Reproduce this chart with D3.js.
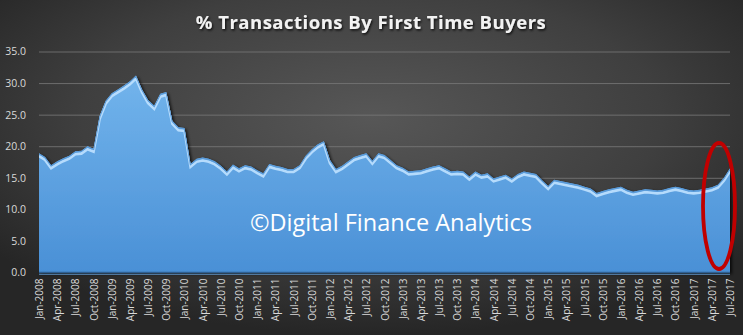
<!DOCTYPE html>
<html><head><meta charset="utf-8">
<script src="https://cdn.jsdelivr.net/npm/d3@7/dist/d3.min.js"></script>
<style>html,body{margin:0;padding:0;background:#333;}svg{display:block;}</style>
</head><body>
<svg id="chart" width="743" height="335"></svg>
<script>
const title = "% Transactions By First Time Buyers";
const watermark = "©Digital Finance Analytics";
const monthNames = ["Jan","Feb","Mar","Apr","May","Jun","Jul","Aug","Sep","Oct","Nov","Dec"];
const years = [2008,2009,2010,2011,2012,2013,2014,2015,2016,2017];
const lastMonthIndex2017 = 6; // Jul-2017
const categories = [];
years.forEach(y => monthNames.forEach((m,i) => { if (y < 2017 || i <= lastMonthIndex2017) categories.push(m + "-" + y); }));

const values = [
 18.9,18.3,17.0,17.6,18.1,18.5,19.2,19.3,20.0,19.6,24.8,27.2,
 28.4,29.0,29.6,30.3,31.2,29.0,27.3,26.4,28.3,28.6,24.0,23.0,
 22.9,17.2,18.0,18.2,18.0,17.6,16.9,16.0,17.1,16.5,17.0,16.8,
 16.2,15.7,17.2,16.9,16.7,16.4,16.4,17.0,18.5,19.5,20.3,20.8,
 17.8,16.4,16.9,17.6,18.3,18.6,18.9,17.7,18.9,18.6,17.8,17.0,
 16.6,16.0,16.1,16.2,16.5,16.8,17.0,16.5,16.0,16.1,16.0,15.2,
 16.0,15.5,15.7,14.9,15.2,15.5,14.9,15.6,16.0,15.8,15.6,14.6,
 13.7,14.7,14.5,14.3,14.1,13.9,13.6,13.3,12.6,12.9,13.2,13.4,
 13.6,13.1,12.8,13.0,13.2,13.1,13.0,13.1,13.4,13.6,13.4,13.1,
 13.0,13.1,13.3,13.5,13.9,15.0,16.5
];
const yTicks = [0,5,10,15,20,25,30,35];
const xTickLabels = categories.filter((c,i) => i % 3 === 0);

const W = 743, H = 335;
const svg = d3.select("#chart");
const defs = svg.append("defs");

const bg = defs.append("radialGradient").attr("id","bg").attr("cx","50%").attr("cy","35%").attr("r","65%");
bg.append("stop").attr("offset","0%").attr("stop-color","#575757");
bg.append("stop").attr("offset","60%").attr("stop-color","#3f3f3f");
bg.append("stop").attr("offset","100%").attr("stop-color","#262626");
svg.append("rect").attr("width",W).attr("height",H).attr("fill","url(#bg)");

const af = defs.append("linearGradient").attr("id","areaFill").attr("x1","0").attr("y1","0").attr("x2","0").attr("y2","1");
af.append("stop").attr("offset","0%").attr("stop-color","#72b4ec");
af.append("stop").attr("offset","100%").attr("stop-color","#4a90d6");

const sh = defs.append("filter").attr("id","shadow").attr("x","-5%").attr("y","-5%").attr("width","110%").attr("height","110%");
sh.append("feDropShadow").attr("dx",2).attr("dy",1.5).attr("stdDeviation",1.5).attr("flood-color","#000").attr("flood-opacity",0.75);
const bl = defs.append("filter").attr("id","blur");
bl.append("feGaussianBlur").attr("stdDeviation",0.7);
const ts = defs.append("filter").attr("id","tshadow");
ts.append("feDropShadow").attr("dx",1).attr("dy",1.5).attr("stdDeviation",1).attr("flood-color","#000").attr("flood-opacity",0.8);

const x = d3.scalePoint().domain(categories).range([39,730]);
const y = d3.scaleLinear().domain([0,35]).range([272.5,51.5]);

// gridlines
svg.append("g").attr("transform","translate(39,0)")
  .call(d3.axisLeft(y).tickValues(yTicks.filter(t=>t>0)).tickSize(-(730-39)).tickFormat(""))
  .call(g => g.select(".domain").remove())
  .call(g => g.selectAll("line").attr("stroke","#7a7a7a").attr("stroke-width",0.8));

// y labels
svg.append("g").attr("transform","translate(29,0)")
  .call(d3.axisLeft(y).tickValues(yTicks).tickSize(0).tickFormat(d3.format(".1f")))
  .call(g => g.select(".domain").remove())
  .call(g => g.selectAll("text").attr("fill","#d9d9d9").attr("font-family","'Open Sans', sans-serif").attr("font-size","10.5px"));

const area = d3.area().x((d,i)=>x(categories[i])).y0(y(0)).y1(d=>y(d));
const line = d3.line().x((d,i)=>x(categories[i])).y(d=>y(d));

defs.append("clipPath").attr("id","areaClip").append("path").attr("d", area(values));

svg.append("path").attr("d", area(values)).attr("fill","url(#areaFill)").attr("filter","url(#shadow)");
// bevel highlight
svg.append("g").attr("clip-path","url(#areaClip)")
  .append("path").attr("d", line(values)).attr("transform","translate(0,3)")
  .attr("fill","none").attr("stroke","#bfe2ff").attr("stroke-width",2.6).attr("filter","url(#blur)").attr("opacity",0.9);
svg.append("g").attr("clip-path","url(#areaClip)")
  .append("path").attr("d", line(values)).attr("transform","translate(0,0.5)")
  .attr("fill","none").attr("stroke","#5a9ad8").attr("stroke-width",1.5);
// bottom baseline
svg.append("line").attr("x1",39).attr("x2",730).attr("y1",y(0)).attr("y2",y(0)).attr("stroke","#2e5f92").attr("stroke-width",1.5);
svg.append("line").attr("x1",39).attr("x2",730).attr("y1",y(0)+1.8).attr("y2",y(0)+1.8).attr("stroke","#5d8fc0").attr("stroke-width",1);

// x labels
svg.append("g").attr("transform",`translate(0,${y(0)+6})`)
  .call(d3.axisBottom(x).tickValues(xTickLabels).tickSize(0))
  .call(g => g.select(".domain").remove())
  .call(g => g.selectAll("text").attr("fill","#d9d9d9").attr("font-family","'Open Sans', sans-serif").attr("font-size","10px")
     .attr("transform","rotate(-90)").attr("text-anchor","end").attr("dx","0").attr("dy","0.35em").attr("x",0).attr("y",0));

// watermark
svg.append("text").attr("x",250).attr("y",231).attr("fill","#ffffff")
  .attr("font-family","'Open Sans', sans-serif").attr("font-size","23.5px").text(watermark);

// title
svg.append("text").attr("x",371).attr("y",29).attr("text-anchor","middle").attr("fill","#f2f2f2")
  .attr("font-family","'Open Sans', sans-serif").attr("font-weight","bold").attr("font-size","18.5px")
  .attr("letter-spacing","0.5px")
  .attr("filter","url(#tshadow)").text(title);

// red ellipse
svg.append("ellipse").attr("cx",x("Jul-2017")-11).attr("cy",206).attr("rx",16).attr("ry",63)
  .attr("fill","none").attr("stroke","#c00000").attr("stroke-width",3.8);
</script>
</body></html>
